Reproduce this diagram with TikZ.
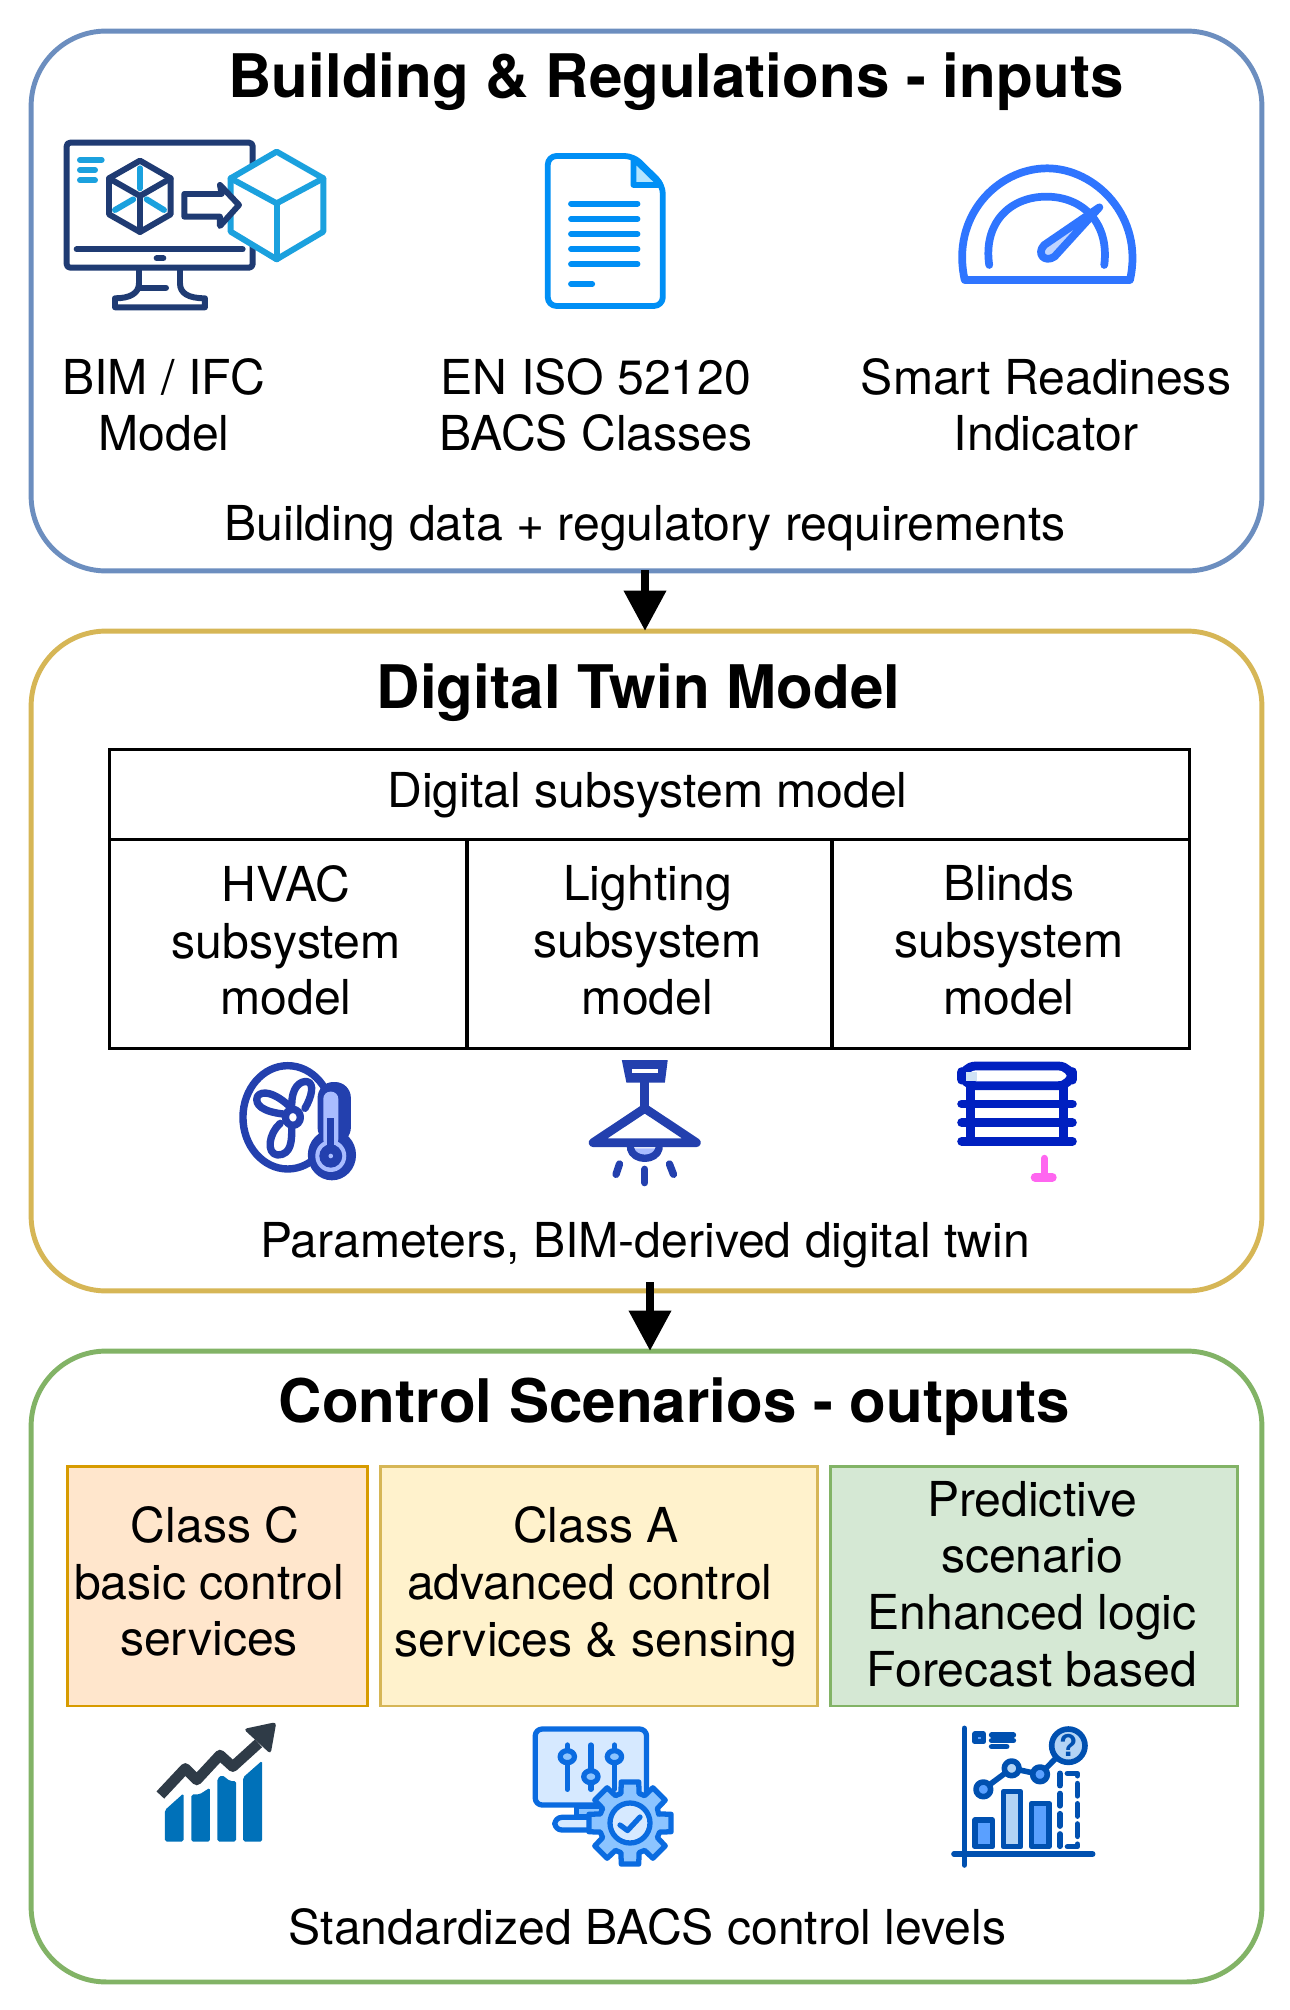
\documentclass[tikz,border=0pt]{standalone}
\usepackage{fontspec}
\setmainfont{TeX Gyre Heros}
\usetikzlibrary{arrows.meta}
\definecolor{inputsblue}{HTML}{6C8EBF}
\definecolor{twinyellow}{HTML}{D6B656}
\definecolor{scenegreen}{HTML}{82B366}
\definecolor{orangefill}{HTML}{FFE6CC}
\definecolor{orangeline}{HTML}{D79B00}
\definecolor{yellowfill}{HTML}{FFF2CC}
\definecolor{greenfill}{HTML}{D5E8D4}
\definecolor{bimnavy}{HTML}{1F3B73}
\definecolor{bimsky}{HTML}{1BA1DE}
\definecolor{docblue}{HTML}{008FF5}
\definecolor{docfold}{HTML}{B3E5FF}
\definecolor{gaugeblue}{HTML}{2F75FF}
\definecolor{gaugelight}{HTML}{BFD4FF}
\definecolor{fanblue}{HTML}{2340AE}
\definecolor{fanlilac}{HTML}{A9BCFF}
\definecolor{blindblue}{HTML}{0020C0}
\definecolor{blindpale}{HTML}{CFE2F5}
\definecolor{blindpink}{HTML}{FF66F0}
\definecolor{barblue}{HTML}{0071B9}
\definecolor{arrowslate}{HTML}{2F3B47}
\definecolor{gearblue}{HTML}{0A6BE0}
\definecolor{gearpale}{HTML}{D6E9FF}
\definecolor{gearmid}{HTML}{8CC4FF}
\definecolor{scanblue}{HTML}{0050B0}
\definecolor{scanmid}{HTML}{5AA0FF}
\definecolor{scanpale}{HTML}{B3D4F5}
\begin{document}
\begin{tikzpicture}[
    x=0.02cm, y=-0.02cm,
    panel/.style={rectangle, rounded corners=1.5cm, line width=2.8pt,
                  minimum width=24.62cm, inner sep=0pt},
    cell/.style={rectangle, draw=black, line width=1.7pt, inner sep=0pt},
    classbox/.style={rectangle, line width=1.7pt, minimum height=4.8cm, inner sep=0pt},
    titletext/.style={font=\fontsize{34.2}{40}\selectfont\bfseries, inner sep=0pt},
    bodytext/.style={font=\fontsize{27.4}{32.3}\selectfont, align=center, inner sep=0pt},
    flow/.style={line width=5pt, -{Triangle[width=23pt, length=23pt]}},
    bimline/.style={draw=bimnavy, line width=3.4pt, line join=round, line cap=round},
    bimsky/.style={draw=bimsky, line width=3.4pt, line join=round, line cap=round},
    docline/.style={draw=docblue, line width=3.3pt, line join=round, line cap=round},
    gaugeline/.style={draw=gaugeblue, line width=4.4pt, line join=round, line cap=round},
    fanline/.style={draw=fanblue, line width=4.2pt, line join=round, line cap=round},
    lampline/.style={draw=fanblue, line width=5pt, line join=round, line cap=round},
    blindline/.style={draw=blindblue, line width=5pt, line join=round, line cap=round},
    gearline/.style={draw=gearblue, line width=3pt, line join=round, line cap=round},
    scanline/.style={draw=scanblue, line width=3.2pt, line join=round, line cap=round}
]
    \useasboundingbox (0,0) rectangle (1290,2010);
    \fill[white] (0,0) rectangle (1290,2010);

    \node[panel, draw=inputsblue, minimum height=10.8cm] (inputs) at (646.5,301) {};
    \node[panel, draw=twinyellow, minimum height=13.2cm] (twin) at (646.5,961) {};
    \node[panel, draw=scenegreen, minimum height=12.62cm] (scenarios) at (646.5,1666.5) {};

    \coordinate (flowtopa) at (645,570);
    \coordinate (flowtopb) at (645,631);
    \coordinate (flowbota) at (650,1282);
    \coordinate (flowbotb) at (650,1351);
    \draw[flow] (flowtopa) -- (flowtopb);
    \draw[flow] (flowbota) -- (flowbotb);

    \node[titletext] (inputstitle) at (676,82) {Building \& Regulations - inputs};
    \node[bodytext] (bimlabel) at (164,405) {BIM / IFC\\Model};
    \node[bodytext] (isolabel) at (596,405) {EN ISO 52120\\BACS Classes};
    \node[bodytext] (srilabel) at (1046,405) {Smart Readiness\\Indicator};
    \node[bodytext] (inputsnote) at (645,528) {Building data + regulatory requirements};

    \node[titletext] (twintitle) at (638.5,693) {Digital Twin Model};
    \node[cell, minimum width=21.62cm, minimum height=1.8cm] (subsystem) at (649.5,794) {};
    \node[cell, minimum width=7.16cm, minimum height=4.2cm] (hvac) at (288,944) {};
    \node[cell, minimum width=7.3cm, minimum height=4.2cm] (lighting) at (649.5,944) {};
    \node[cell, minimum width=7.16cm, minimum height=4.2cm] (blinds) at (1011,944) {};
    \node[bodytext] (subsystemlabel) at (647.5,795) {Digital subsystem model};
    \node[bodytext] (hvaclabel) at (286,940.5) {HVAC\\subsystem\\model};
    \node[bodytext] (lightinglabel) at (647.5,940.5) {Lighting\\subsystem\\model};
    \node[bodytext] (blindslabel) at (1009,940.5) {Blinds\\subsystem\\model};
    \node[bodytext] (twinnote) at (645,1245) {Parameters, BIM-derived digital twin};

    \node[titletext] (scenariostitle) at (674.5,1407) {Control Scenarios - outputs};
    \node[classbox, draw=orangeline, fill=orangefill, minimum width=6.02cm] (classc) at (217.5,1586) {};
    \node[classbox, draw=twinyellow, fill=yellowfill, minimum width=8.76cm] (classa) at (599,1586) {};
    \node[classbox, draw=scenegreen, fill=greenfill, minimum width=8.16cm] (predictive) at (1034,1586) {};
    \node[bodytext] (classclabel) at (209,1581.5) {\hspace*{7pt}Class C\\basic control\\services};
    \node[bodytext] (classalabel) at (596,1586.5) {Class A\\advanced control\hspace*{7pt}\null\\services \& sensing};
    \node[bodytext] (predictivelabel) at (1032,1584) {Predictive\\scenario\\Enhanced logic\\Forecast based};
    \node[bodytext] (scenariosnote) at (647.5,1927) {Standardized BACS control levels};

    \begin{scope}[shift={(40,120)}, xscale=0.3333, yscale=0.3333]
        \draw[bimline, rounded corners=2pt] (80,68) rectangle (638,443);
        \draw[bimline] (110,388) -- (608,388);
        \draw[bimline] (350,415) -- (370,415);
        \draw[bimline] (297,450) -- (297,490) .. controls (297,520) and (270,535) .. (225,535)
            -- (225,562) -- (495,562) -- (495,535) .. controls (445,535) and (420,520) .. (420,490) -- (420,450);
        \draw[bimline] (300,503) -- (378,503);
        \foreach \y/\xend in {120/185,150/165,181/165}
            \draw[bimsky] (120,\y) -- (\xend,\y);
        \draw[bimline] (300,122) -- (392,175) -- (392,283) -- (300,336) -- (207,283) -- (207,175) -- cycle;
        \draw[bimline] (207,175) -- (300,228) -- (392,175);
        \draw[bimline] (300,228) -- (300,336);
        \draw[bimsky, dash pattern=on 12pt off 6pt] (300,145) -- (300,205);
        \draw[bimsky, dash pattern=on 12pt off 6pt] (225,270) -- (280,238);
        \draw[bimsky, dash pattern=on 12pt off 6pt] (320,238) -- (372,270);
        \draw[bimsky, fill=white] (710,95) -- (850,175) -- (850,335) -- (710,418) -- (572,335) -- (572,175) -- cycle;
        \draw[bimsky] (572,175) -- (710,250) -- (850,175);
        \draw[bimsky] (710,250) -- (710,418);
        \draw[bimline, fill=white] (433,222) -- (545,222) -- (540,195) -- (597,255) -- (540,318) -- (540,290) -- (433,290) -- cycle;
    \end{scope}

    \begin{scope}[shift={(520,130)}, xscale=0.408, yscale=0.3333]
        \draw[docline, rounded corners=5pt] (68,528) -- (68,78) -- (278,78) -- (350,165) -- (350,528) -- cycle;
        \draw[docline, fill=docfold] (278,85) -- (278,165) -- (345,165) -- cycle;
        \foreach \y in {221,267,312,357,403}
            \draw[docline] (125,\y) -- (288,\y);
        \draw[docline] (125,462) -- (177,462);
        \draw[gaugeline] (1090,450) .. controls (1055,260) and (1170,115) .. (1292,115)
            .. controls (1410,115) and (1530,260) .. (1495,450) -- cycle;
        \draw[gaugeline] (1150,405) .. controls (1135,280) and (1200,200) .. (1290,200)
            .. controls (1380,200) and (1445,280) .. (1432,405);
        \draw[gaugeline, fill=gaugelight] (1420,232) -- (1285,345) .. controls (1265,370) and (1285,400) .. (1310,380) -- cycle;
    \end{scope}

    \begin{scope}[shift={(220,1040)}, xscale=0.574, yscale=0.3333]
        \draw[fanline] (118,232) ellipse [x radius=78, y radius=155];
        \draw[fanline] (125,195) .. controls (125,140) and (140,122) .. (152,125) .. controls (165,130) and (160,170) .. (148,205);
        \draw[fanline] (110,222) .. controls (75,215) and (60,195) .. (65,170) .. controls (72,150) and (95,155) .. (125,205);
        \draw[fanline] (105,250) .. controls (85,280) and (80,340) .. (100,345) .. controls (125,345) and (125,300) .. (125,265);
        \draw[fanline, fill=white] (127,232) ellipse [x radius=13, y radius=24];
        \fill[fanblue, rounded corners=9pt] (170,126) rectangle (228,310);
        \fill[fanblue] (195,345) ellipse [x radius=42, y radius=76];
        \fill[fanlilac, rounded corners=4pt] (180,155) rectangle (206,320);
        \fill[fanlilac] (193,348) ellipse [x radius=27, y radius=48];
        \fill[fanblue] (186,235) rectangle (199,330);
        \fill[fanblue] (193,348) ellipse [x radius=20, y radius=35];
        \fill[fanlilac] (193,348) ellipse [x radius=4, y radius=7];

        \fill[fanblue] (700,60) -- (780,60) -- (775,128) -- (708,128) -- cycle;
        \fill[white] (718,88) rectangle (763,98);
        \draw[lampline] (740,128) -- (740,205);
        \draw[lampline, fill=white] (740,205) -- (830,308) -- (650,308) -- cycle;
        \draw[fanline, fill=fanlilac] (715,325) .. controls (720,365) and (760,365) .. (765,325);
        \foreach \xa/\xb/\ya/\yb in {696/690/372/403,740/740/388/428,783/790/372/403}
            \draw[fanline] (\xa,\ya) -- (\xb,\yb);

        \draw[blindline, fill=white, rounded corners=8pt] (1292,78) rectangle (1485,137);
        \fill[blindpale] (1300,95) rectangle (1318,122);
        \foreach \x in {1308,1470}
            \draw[draw=blindblue, line width=5pt] (\x,137) -- (\x,305);
        \foreach \y in {192,248,304}
            \draw[blindline] (1292,\y) -- (1485,\y);
        \draw[draw=blindpink, line width=4pt, line cap=round] (1436,355) -- (1436,400);
        \draw[draw=blindpink, line width=5pt, line cap=round] (1420,412) -- (1450,412);
    \end{scope}

    \begin{scope}[shift={(130,1700)}, xscale=0.357, yscale=0.3333]
        \fill[barblue, rounded corners=1pt] (98,330) -- (150,280) -- (150,425) -- (98,425) -- cycle;
        \fill[barblue, rounded corners=1pt] (172,283) -- (195,283) -- (224,263) -- (224,425) -- (172,425) -- cycle;
        \fill[barblue, rounded corners=1pt] (245,235) -- (258,225) -- (280,243) -- (297,243) -- (297,425) -- (245,425) -- cycle;
        \fill[barblue, rounded corners=1pt] (317,232) -- (370,182) -- (370,425) -- (317,425) -- cycle;
        \draw[arrowslate, line width=6pt, line join=round] (85,285) -- (155,205) -- (187,240) -- (252,165) -- (288,200) -- (360,130);
        \fill[arrowslate, rounded corners=2pt] (318,87) -- (410,66) -- (394,162) -- cycle;

        \draw[gearline, fill=gearpale, rounded corners=4pt] (1135,87) rectangle (1447,315);
        \draw[gearline, fill=gearmid] (1250,320) rectangle (1320,350);
        \draw[gearline, fill=gearpale, rounded corners=4pt] (1190,352) rectangle (1300,390);
        \foreach \x/\yk in {1225/170,1291/230,1357/170} {
            \draw[gearline] (\x,135) -- (\x,268);
            \draw[gearline, fill=gearmid] (\x,\yk) ellipse [x radius=20, y radius=18];
        }
    \end{scope}

    \begin{scope}[shift={(630,1823)}]
        \draw[gearline, fill=gearmid] (-17:30)
            \foreach \a in {0,45,...,315} { -- (\a-17:31) -- (\a-12:42) -- (\a+12:42) -- (\a+17:31) } -- cycle;
        \draw[gearline, fill=gearpale] (0,0) circle (20);
        \draw[gearline] (-10,2) -- (-2.5,7.5) -- (10,-6);
    \end{scope}

    \begin{scope}[shift={(930,1710)}, xscale=0.3333, yscale=0.3333]
        \draw[scanline] (103,55) -- (103,465);
        \draw[scanline] (72,432) -- (488,432);
        \draw[scanline, fill=scanmid] (135,72) rectangle (160,95);
        \foreach \y/\xend in {75/250,92/250,110/230}
            \draw[scanline] (185,\y) -- (\xend,\y);
        \draw[scanline, fill=scanmid] (135,330) rectangle (187,410);
        \draw[scanline, fill=scanpale] (220,245) rectangle (272,410);
        \draw[scanline, fill=scanmid] (305,280) rectangle (357,410);
        \draw[scanline, dash pattern=on 7pt off 4.5pt] (390,190) rectangle (442,410);
        \draw[scanline] (160,238) -- (245,175) -- (330,193) -- (415,107);
        \draw[scanline, fill=scanmid] (160,238) circle (22);
        \draw[scanline, fill=scanpale] (245,175) circle (22);
        \draw[scanline, fill=scanmid] (330,193) circle (22);
        \draw[scanline, fill=scanpale] (415,107) circle (50);
        \node[text=scanblue, font=\fontsize{17}{17}\selectfont\bfseries, inner sep=0pt] (askmark) at (415,107) {?};
    \end{scope}
\end{tikzpicture}
\end{document}
